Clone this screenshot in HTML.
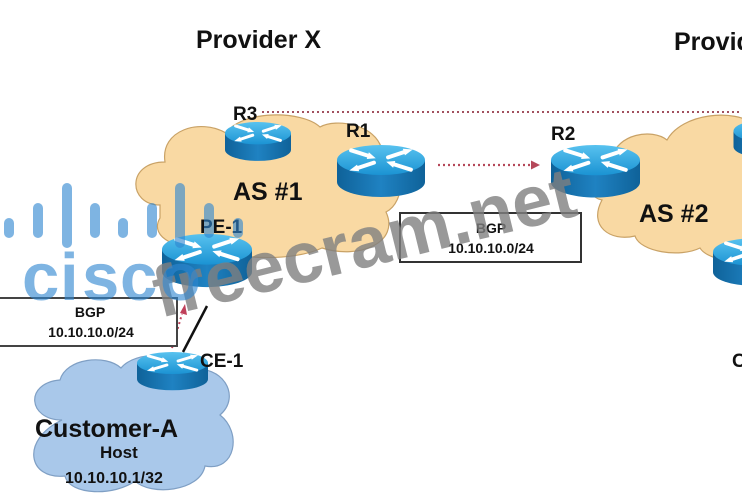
<!DOCTYPE html>
<html>
<head>
<meta charset="utf-8">
<style>
html,body{margin:0;padding:0;background:#fff;}
svg{display:block;}
text{font-family:"Liberation Sans",Arial,sans-serif;font-weight:bold;}
</style>
</head>
<body>
<svg width="742" height="499" viewBox="0 0 742 499" xmlns="http://www.w3.org/2000/svg">
<defs>
  <linearGradient id="topg" x1="0" y1="0" x2="0" y2="1">
    <stop offset="0" stop-color="#58c2ef"/>
    <stop offset="1" stop-color="#1b93d3"/>
  </linearGradient>
  <linearGradient id="sideg" x1="0" y1="0" x2="1" y2="0">
    <stop offset="0" stop-color="#0f6299"/>
    <stop offset="0.5" stop-color="#1f82c2"/>
    <stop offset="1" stop-color="#0f6299"/>
  </linearGradient>
  <g id="rt">
    <path d="M-50,0 L-50,25 A50,17 0 0 0 50,25 L50,0 Z" fill="url(#sideg)"/>
    <ellipse cx="0" cy="0" rx="50" ry="17" fill="url(#topg)"/>
    <g stroke="#fff" stroke-width="4.5" fill="#fff" stroke-linecap="round">
      <line x1="-34" y1="-11" x2="-15" y2="-5"/>
      <polygon stroke="none" points="-6,-2 -13.8,-8.8 -16.2,-1.2"/>
      <line x1="34" y1="11" x2="15" y2="5"/>
      <polygon stroke="none" points="6,2 13.8,8.8 16.2,1.2"/>
      <line x1="8" y1="-3" x2="26" y2="-9"/>
      <polygon stroke="none" points="36,-12 27.2,-5.2 24.8,-12.8"/>
      <line x1="-8" y1="3" x2="-26" y2="9"/>
      <polygon stroke="none" points="-36,12 -27.2,5.2 -24.8,12.8"/>
    </g>
  </g>
</defs>

<!-- Clouds -->
<path d="M160,205 C128,205 126,162 165,162 C160,130 200,118 226,133 C242,110 302,110 320,127 C336,118 376,124 382,150 C407,160 406,202 386,212 C400,242 360,260 322,248 C292,262 232,260 210,246 C180,252 148,238 160,218 Z" fill="#f9d9a3" stroke="#c9a266" stroke-width="1.2"/>
<path d="M602,200 C580,196 584,158 612,158 C617,134 652,128 667,140 C682,113 735,108 755,125 L755,262 C732,264 706,258 700,248 C680,258 640,252 635,236 C610,242 588,226 602,200 Z" fill="#f9d9a3" stroke="#c9a266" stroke-width="1.2"/>
<path d="M62,420 C28,420 24,383 60,380 C66,358 106,354 121,368 C136,350 180,352 191,370 C222,364 242,396 220,415 C242,432 236,472 205,466 C200,492 150,496 135,481 C115,496 70,496 65,476 C28,480 20,440 62,420 Z" fill="#a9c8ea" stroke="#7f9fc4" stroke-width="1.2"/>

<!-- dotted lines -->
<line x1="262" y1="112" x2="742" y2="112" stroke="#a2505e" stroke-width="2" stroke-dasharray="2 3"/>
<line x1="438" y1="165" x2="532" y2="165" stroke="#b5485a" stroke-width="2.2" stroke-dasharray="2 3"/>
<polygon points="531,160.5 540,165 531,169.5" fill="#b5485a"/>
<line x1="172" y1="348" x2="182" y2="314" stroke="#c0405a" stroke-width="2" stroke-dasharray="2 3"/>
<polygon points="180,313 185,304 187,315" fill="#c0405a"/>

<!-- PE-CE link -->
<line x1="207" y1="306" x2="183" y2="352" stroke="#111" stroke-width="2.5"/>

<!-- Routers -->
<use href="#rt" transform="translate(258,133.2) scale(0.66)"/>
<use href="#rt" transform="translate(381,160) scale(0.88)"/>
<use href="#rt" transform="translate(595.5,160.1) scale(0.89)"/>
<use href="#rt" transform="translate(207,249.3) scale(0.9)"/>
<use href="#rt" transform="translate(172.5,363) scale(0.71,0.65)"/>
<use href="#rt" transform="translate(765,131) scale(0.63)"/>
<use href="#rt" transform="translate(753,252) scale(0.8)"/>

<!-- BGP boxes -->
<rect x="400" y="213" width="181" height="49" fill="#fff" stroke="#333" stroke-width="2"/>
<text x="491" y="233" font-size="14" text-anchor="middle" fill="#111">BGP</text>
<text x="491" y="253" font-size="14" text-anchor="middle" fill="#111">10.10.10.0/24</text>
<rect x="-2" y="298" width="179" height="48" fill="#fff" stroke="#444" stroke-width="2"/>
<text x="90" y="317" font-size="14" text-anchor="middle" fill="#111">BGP</text>
<text x="91" y="337" font-size="14" text-anchor="middle" fill="#111">10.10.10.0/24</text>

<!-- Labels -->
<text x="196" y="48" font-size="25" fill="#111">Provider X</text>
<text x="674" y="50" font-size="25" fill="#111">Provider Y</text>
<text x="233" y="120" font-size="19" fill="#111">R3</text>
<text x="346" y="137" font-size="19" fill="#111">R1</text>
<text x="551" y="140" font-size="19" fill="#111">R2</text>
<text x="233" y="200" font-size="25" fill="#111">AS #1</text>
<text x="639" y="222" font-size="25" fill="#111">AS #2</text>
<text x="200" y="233" font-size="19" fill="#111">PE-1</text>
<text x="200" y="367" font-size="19" fill="#111">CE-1</text>
<text x="732" y="367" font-size="19" fill="#111">CE-2</text>
<text x="35" y="437" font-size="25" fill="#111">Customer-A</text>
<text x="100" y="458" font-size="17" fill="#111">Host</text>
<text x="65" y="483" font-size="16" fill="#111">10.10.10.1/32</text>

<!-- gray watermark -->
<text transform="translate(160,318) rotate(-13.8)" font-size="72" fill="#7f7f7f" fill-opacity="0.8">freecram.net</text>

<!-- blue watermark -->
<g fill="#2f86d0" fill-opacity="0.62">
  <rect x="4" y="218" width="10" height="20" rx="5"/>
  <rect x="33" y="203" width="10" height="35" rx="5"/>
  <rect x="62" y="183" width="10" height="65" rx="5"/>
  <rect x="90" y="203" width="10" height="35" rx="5"/>
  <rect x="118" y="218" width="10" height="20" rx="5"/>
  <rect x="147" y="203" width="10" height="35" rx="5"/>
  <rect x="175" y="183" width="10" height="65" rx="5"/>
  <rect x="204" y="203" width="10" height="35" rx="5"/>
  <rect x="233" y="218" width="10" height="20" rx="5"/>
  <text y="300" font-size="67"><tspan x="22">c</tspan><tspan x="60">i</tspan><tspan x="82">s</tspan><tspan x="120">c</tspan><tspan x="160">o</tspan></text>
</g>
</svg>
</body>
</html>
